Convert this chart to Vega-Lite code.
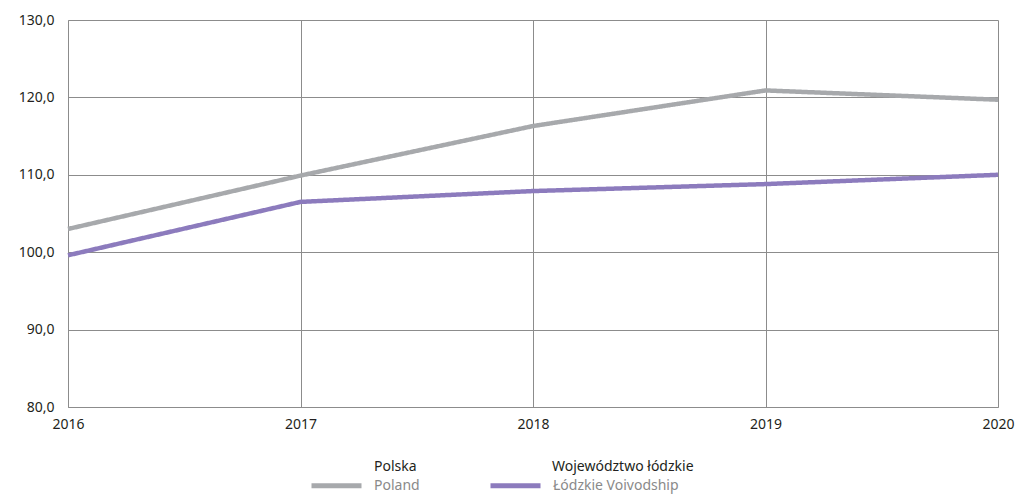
{
  "$schema": "https://vega.github.io/schema/vega-lite/v6.json",
  "width": 930,
  "height": 387,
  "autosize": {"type": "none"},
  "padding": {"left": 68, "top": 20, "right": 21, "bottom": 87},
  "config": {"font": "Noto Sans", "view": {"stroke": null}},
  "data": {
    "values": [
      {"year": 2016, "value": 103.0, "pl": "Polska", "en": "Poland"},
      {"year": 2017, "value": 109.9, "pl": "Polska", "en": "Poland"},
      {"year": 2018, "value": 116.3, "pl": "Polska", "en": "Poland"},
      {"year": 2019, "value": 120.9, "pl": "Polska", "en": "Poland"},
      {"year": 2020, "value": 119.7, "pl": "Polska", "en": "Poland"},
      {"year": 2016, "value": 99.6, "pl": "Województwo łódzkie", "en": "Łódzkie Voivodship"},
      {"year": 2017, "value": 106.5, "pl": "Województwo łódzkie", "en": "Łódzkie Voivodship"},
      {"year": 2018, "value": 107.9, "pl": "Województwo łódzkie", "en": "Łódzkie Voivodship"},
      {"year": 2019, "value": 108.8, "pl": "Województwo łódzkie", "en": "Łódzkie Voivodship"},
      {"year": 2020, "value": 110.0, "pl": "Województwo łódzkie", "en": "Łódzkie Voivodship"}
    ]
  },
  "mark": {"type": "line", "strokeWidth": 4.5},
  "encoding": {
    "x": {
      "field": "year", "type": "quantitative",
      "scale": {"domain": [2016, 2020], "nice": false, "zero": false},
      "axis": {
        "values": [2016, 2017, 2018, 2019, 2020], "format": "d", "title": null,
        "grid": true, "gridColor": "#8c8c8c", "gridWidth": 1,
        "domainColor": "#8c8c8c", "ticks": false, "labelPadding": 10,
        "labelFontSize": 14, "labelColor": "#231f20", "labelFlush": false
      }
    },
    "y": {
      "field": "value", "type": "quantitative",
      "scale": {"domain": [80, 130], "nice": false, "zero": false},
      "axis": {
        "values": [80, 90, 100, 110, 120, 130], "title": null,
        "labelExpr": "replace(format(datum.value, '.1f'), '.', ',')",
        "grid": true, "gridColor": "#8c8c8c", "gridWidth": 1,
        "domainColor": "#8c8c8c", "ticks": false, "labelPadding": 14,
        "labelFontSize": 14, "labelColor": "#231f20"
      }
    },
    "color": {
      "field": "en", "type": "nominal",
      "scale": {"domain": ["Poland", "Łódzkie Voivodship"], "range": ["#a7a9ac", "#8c7bbd"]},
      "legend": {
        "orient": "none", "legendX": 241, "legendY": 438, "direction": "horizontal",
        "title": null, "symbolType": "stroke", "symbolSize": 2500, "symbolStrokeWidth": 5,
        "labelOffset": 10, "columnPadding": 60, "labelFontSize": 14,
        "labelColor": "#8a8a8a", "padding": 0
      }
    },
    "strokeDash": {
      "field": "pl", "type": "nominal",
      "scale": {"domain": ["Polska", "Województwo łódzkie"], "range": [[1, 0], [1, 0]]},
      "legend": {
        "orient": "none", "legendX": 241, "legendY": 419, "direction": "horizontal",
        "title": null, "symbolType": "stroke", "symbolSize": 2500, "symbolStrokeWidth": 5,
        "symbolOpacity": 0,
        "labelOffset": 10, "columnPadding": 70, "labelFontSize": 14,
        "labelColor": "#231f20", "padding": 0
      }
    }
  }
}
